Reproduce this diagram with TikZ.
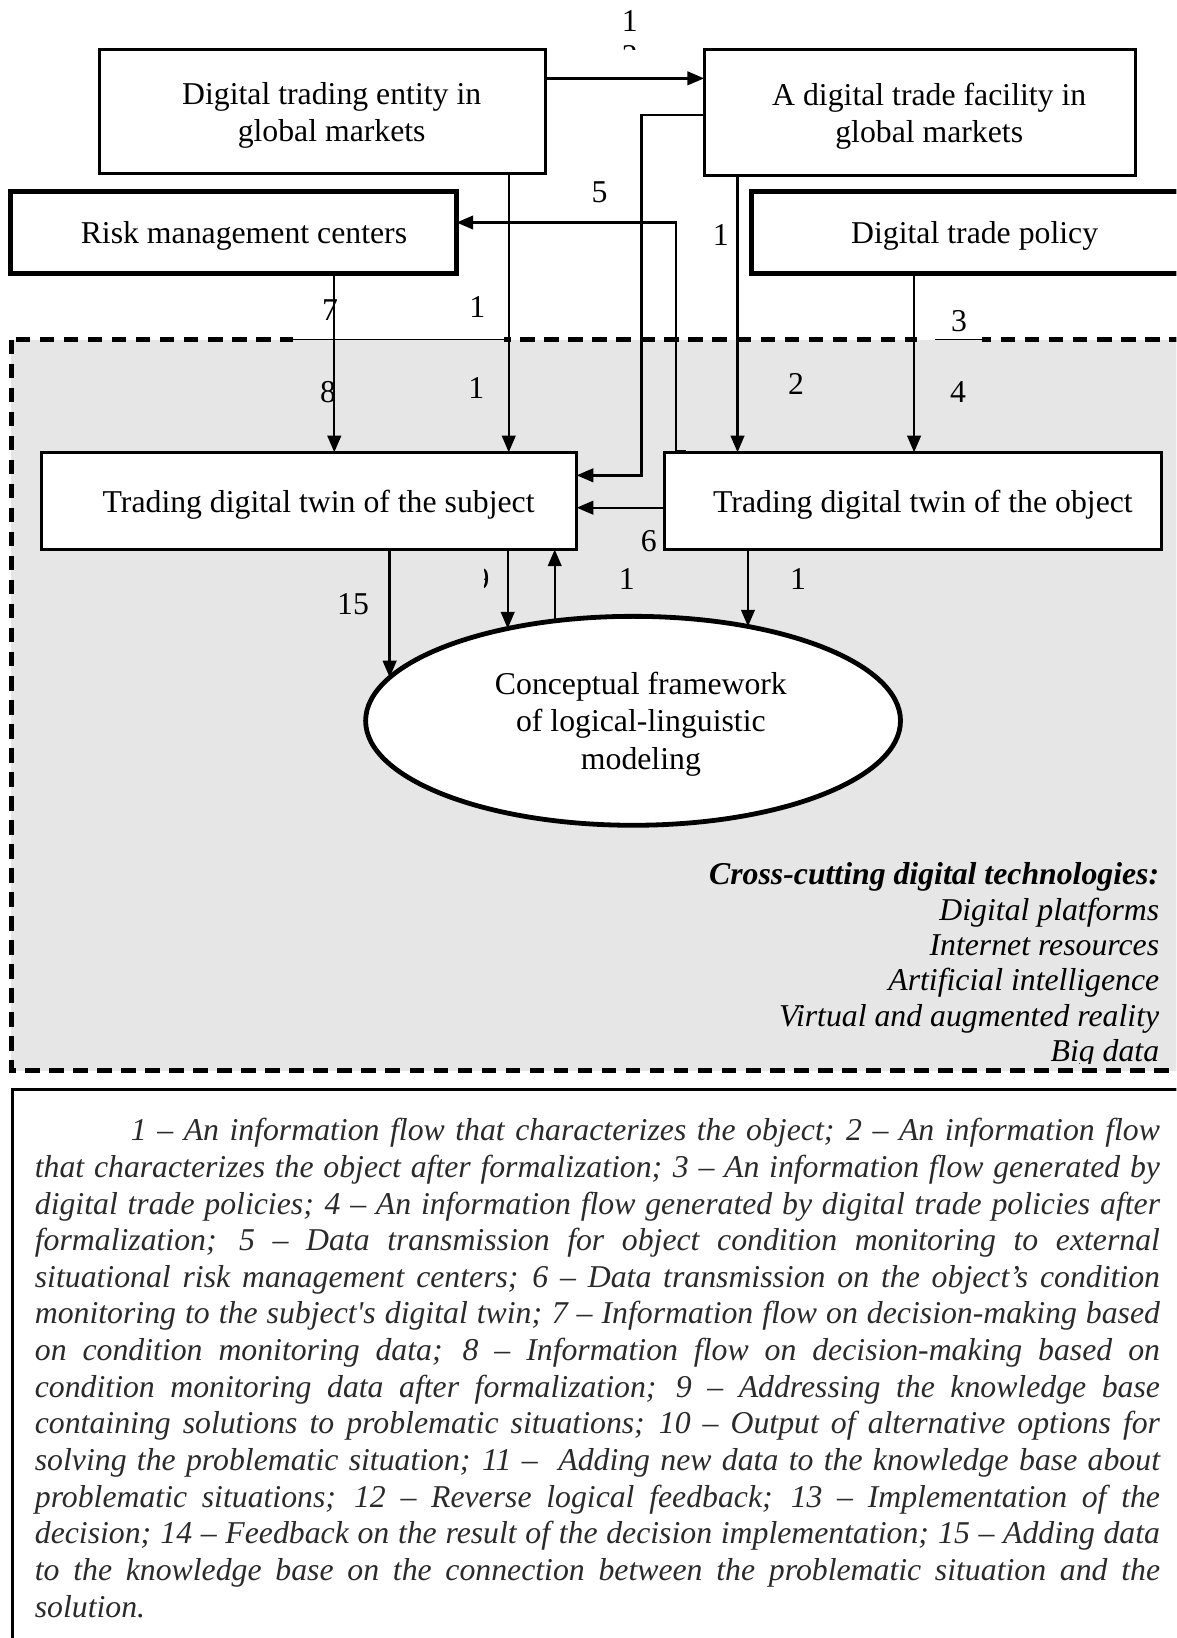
\documentclass[tikz,border=0pt]{standalone}
\usepackage{fontspec}
\setmainfont{Liberation Serif}[Ligatures=TeXOff]
\usetikzlibrary{arrows.meta,calc,shapes.geometric}
\definecolor{zonegray}{HTML}{E6E6E6}
\definecolor{legendtext}{HTML}{2A2A2A}

\begin{document}
\begin{tikzpicture}[x=0.5pt,y=-0.5pt,
  font=\fontsize{15.2pt}{17.5pt}\selectfont,
  thinbox/.style={draw,line width=1.4pt,fill=white,inner sep=0pt,outer sep=0pt},
  thickbox/.style={draw,line width=2.3pt,fill=white,inner sep=0pt,outer sep=0pt},
  boxtext/.style={align=center,inner sep=0pt},
  arr/.style={line width=1.15pt,-{Triangle[length=8pt,width=6.5pt]}},
  lbl/.style={inner sep=0pt},
]
\clip (0,0) rectangle (1126,1568);

% digital environment zone
\draw[fill=zonegray,line width=2.4pt,dash pattern=on 7pt off 4.5pt] (11,325) rectangle (1160,1025);
% stretches of the zone edge covered by label boxes
\fill[white] (280,321) rectangle (482,325);
\fill[zonegray] (280,325) rectangle (482,329);
\draw[line width=0.5pt] (280,325) -- (482,325);
\fill[white] (878,321) rectangle (940,325);
\fill[zonegray] (878,325) rectangle (940,329);
\draw[line width=0.5pt] (895,325) -- (940,325);

% legend frame
\draw[line width=1.6pt] (12,1043) rectangle (1160,1620);

% blocks
\node[thinbox,minimum width=213.5pt,minimum height=59.5pt] (box1) at (308.5,106.5) {};
\node[boxtext] (box1t) at ([xshift=4.5pt,yshift=-1.9pt]box1.center) {Digital trading entity in\\global markets};
\node[thinbox,minimum width=206.5pt,minimum height=60.5pt] (box2) at (880.5,107.5) {};
\node[boxtext] (box2t) at ([xshift=4.5pt,yshift=-1.9pt]box2.center) {A digital trade facility in\\global markets};
\node[thickbox,minimum width=213.5pt,minimum height=39.5pt] (risk) at (223.5,222.5) {};
\node[boxtext] (riskt) at ([xshift=5pt,yshift=-1.5pt]risk.center) {Risk management centers};
\node[thickbox,minimum width=214pt,minimum height=39.5pt] (policy) at (933,222.5) {};
\node[boxtext] (policyt) at ([yshift=-1.5pt]policy.center) {Digital trade policy};
\node[thinbox,minimum width=256pt,minimum height=46.5pt] (subj) at (296,479.5) {};
\node[boxtext] (subjt) at ([xshift=4.5pt,yshift=-1.9pt]subj.center) {Trading digital twin of the subject};
\node[thinbox,minimum width=238pt,minimum height=46.5pt] (obj) at (874,479.5) {};
\node[boxtext] (objt) at ([xshift=4.75pt,yshift=-1.9pt]obj.center) {Trading digital twin of the object};
\node[thickbox,ellipse,minimum width=256pt,minimum height=100pt] (ell) at (606,690) {};
\node[boxtext,font=\fontsize{15.2pt}{18pt}\selectfont] (ellt) at ([xshift=3.75pt,yshift=-1.6pt]ell.center) {Conceptual framework\\of logical-linguistic\\modeling};

% connectors between the outer blocks and the twins
\coordinate (s12) at ([yshift=15.75pt]box1.east);
\draw[arr] (s12) -- (s12 -| box2.west);

\draw[arr] ([yshift=-1.25pt]box2.west) -- ++(-60,0) |- ([yshift=12.25pt]subj.east);

\coordinate (s1) at ([xshift=89.25pt]box1.south);
\draw[arr] (s1) -- (s1 |- subj.north);

\coordinate (s7) at ([xshift=48.25pt]risk.south);
\draw[arr] (s7) -- (s7 |- subj.north);

\coordinate (s2) at ([xshift=-87.25pt]box2.south);
\draw[arr] (s2) -- (s2 |- obj.north);

\coordinate (s3) at ([xshift=-29pt]policy.south);
\draw[arr] (s3) -- (s3 |- obj.north);

\coordinate (s5) at ([xshift=10.5pt,yshift=0.6pt]obj.north west);
\draw[arr] (s5) -- ++(-10,0) |- ([yshift=4.75pt]risk.east);

\coordinate (s6) at ([yshift=-3.25pt]obj.west);
\draw[arr] (s6) -- (s6 -| subj.east);

% connectors to and from the modeling framework
\coordinate (s15) at ([xshift=38.5pt]subj.south);
\draw[arr] (s15) -- ($(ell.center)+(-233,-41.5)$);
\coordinate (s9) at ([xshift=95pt]subj.south);
\draw[arr] (s9) -- ($(ell.center)+(-120,-88.3)$);
\coordinate (e10) at ($(ell.center)+(-75,-95.6)$);
\draw[arr] (e10) -- (e10 |- subj.south);
\coordinate (s13) at ([xshift=-79pt]obj.south);
\draw[arr] (s13) -- ($(ell.center)+(110,-90.3)$);

% flow numbers
\node[lbl] (n12) at (603,20) {1};
\begin{scope}
  \clip (580,0) rectangle (630,47);
  \node[lbl] (n12b) at (603,54) {2};
\end{scope}
\node[lbl] (n5) at (574,184) {5};
\node[lbl] (n1c) at (690,225) {1};
\node[lbl] (n7) at (316,297) {7};
\node[lbl] (n1a) at (457,294) {1};
\node[lbl] (n3) at (918,307) {3};
\node[lbl] (n8) at (314,375) {8};
\node[lbl] (n1b) at (456,371) {1};
\node[lbl] (n2) at (762,368) {2};
\node[lbl] (n4) at (917,375) {4};
\node[lbl] (n6) at (621,518) {6};
\node[lbl] (n15) at (338,578) {15};
\begin{scope}
  \clip (464,530) rectangle (471,575);
  \node[lbl] (n9) at (461,554) {9};
\end{scope}
\node[lbl] (n10) at (600,554) {1};
\node[lbl] (n13) at (764,554) {1};

% technologies list
\begin{scope}
  \clip (600,800) rectangle (1126,1018);
  \node[anchor=base east,inner sep=0pt] (tech) at (1110,847)
    {\parbox[t]{300pt}{\raggedleft\fontsize{15.2pt}{16.9pt}\selectfont\itshape
      \textbf{Cross-cutting digital technologies:}\\
      Digital platforms\\
      Internet resources\\
      Artificial intelligence\\
      Virtual and augmented reality\\
      Big data}};
\end{scope}

% legend text
\node[anchor=base west,inner sep=0pt,text=legendtext] (legend) at (33,1092)
  {\parbox[t]{538.5pt}{\fontsize{15.2pt}{17.54pt}\selectfont\itshape
   \makebox[\linewidth][s]{\hspace*{46pt}1 – An information flow that characterizes the object; 2 – An information flow}\\
   \makebox[\linewidth][s]{that characterizes the object after formalization; 3 – An information flow generated by}\\
   \makebox[\linewidth][s]{digital trade policies; 4 – An information flow generated by digital trade policies after}\\
   \makebox[\linewidth][s]{formalization; 5 – Data transmission for object condition monitoring to external}\\
   \makebox[\linewidth][s]{situational risk management centers; 6 – Data transmission on the object’s condition}\\
   \makebox[\linewidth][s]{monitoring to the subject's digital twin; 7 – Information flow on decision-making based}\\
   \makebox[\linewidth][s]{on condition monitoring data; 8 – Information flow on decision-making based on}\\
   \makebox[\linewidth][s]{condition monitoring data after formalization; 9 – Addressing the knowledge base}\\
   \makebox[\linewidth][s]{containing solutions to problematic situations; 10 – Output of alternative options for}\\
   \makebox[\linewidth][s]{solving the problematic situation; 11 – \ Adding new data to the knowledge base about}\\
   \makebox[\linewidth][s]{problematic situations; 12 – Reverse logical feedback; 13 – Implementation of the}\\
   \makebox[\linewidth][s]{decision; 14 – Feedback on the result of the decision implementation; 15 – Adding data}\\
   \makebox[\linewidth][s]{to the knowledge base on the connection between the problematic situation and the}\\
   solution.}};
\end{tikzpicture}
\end{document}
